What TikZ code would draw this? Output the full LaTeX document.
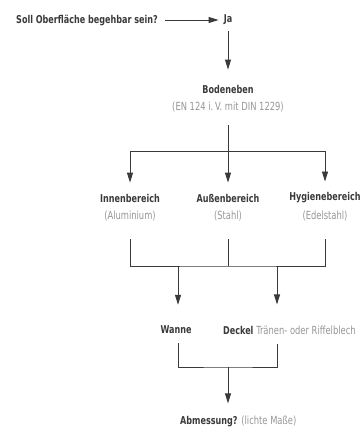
\documentclass[tikz,border=0pt]{standalone}
\usepackage{fontspec}
\setmainfont[FakeStretch=0.83]{DejaVu Sans Condensed}
\usetikzlibrary{arrows.meta, positioning, calc}
\definecolor{rinnedunkel}{RGB}{58, 58, 58}
\definecolor{rinnehell}{RGB}{150, 150, 150}

\tikzset{
    titel/.style={font=\bfseries\fontsize{10.8}{13}\selectfont, text=rinnedunkel, inner sep=0pt},
    hinweis/.style={font=\fontsize{11.2}{13}\selectfont, text=rinnehell, inner sep=0pt},
    linie/.style={draw=rinnedunkel, line width=0.9pt},
    pfeil/.style={linie, -{Triangle[length=10pt, width=6pt]}}
}

\begin{document}
\begin{tikzpicture}[x=1pt, y=-1pt]
    \useasboundingbox (0,0) rectangle (360,427);

    % Frage
    \node[titel, anchor=west] (frage) at (16,20) {Soll Oberfläche begehbar sein?};
    \node[titel] (ja) at (228,20) {Ja};
    \draw[pfeil] ([xshift=7pt]frage.east) -- ([xshift=-5pt]ja.west);

    \node[titel] (boden) at (228,89) {Bodeneben};
    \node[hinweis] (bodenN) at (228,107) {(EN 124 i.\,V. mit DIN 1229)};
    \draw[pfeil] ([yshift=-6pt]ja.south) -- ([yshift=15pt]boden.north);

    % Bereiche
    \node[titel] (innen) at (130,198) {Innenbereich};
    \node[hinweis] (innenN) at (130,216) {(Aluminium)};
    \node[titel] (aussen) at (228,198) {Außenbereich};
    \node[hinweis] (aussenN) at (228,216) {(Stahl)};
    \node[titel] (hyg) at (325,198) {Hygienebereich};
    \node[hinweis] (hygN) at (325,216) {(Edelstahl)};

    \coordinate (verteiler) at (228,151);
    \draw[linie] ([yshift=-13pt]bodenN.south) -- (verteiler);
    \draw[pfeil, shorten >=11pt] (verteiler) -| (innen.north);
    \draw[pfeil, shorten >=11pt] (verteiler) -- (aussen.north);
    \draw[pfeil, shorten >=11pt] (verteiler) -| (hyg.north);

    % Wanne und Deckel
    \coordinate (sammler) at (228,266);
    \coordinate (zuWanne) at (178,266);
    \coordinate (zuDeckel) at (277,266);
    \draw[linie] ([yshift=-18pt]innenN.south) |- (sammler) -| ([yshift=-18pt]hygN.south);
    \draw[linie] ([yshift=-18pt]aussenN.south) -- (sammler);

    \node[titel] (wanne) at (176,330) {Wanne};
    \node[titel, anchor=west] (deckel) at (223,330) {Deckel \textcolor{rinnehell}{\mdseries\fontsize{11.2}{13}\selectfont Tränen- oder Riffelblech}};
    \draw[pfeil] (zuWanne) -- ([yshift=21pt]zuWanne |- wanne.north);
    \draw[pfeil] (zuDeckel) -- ([yshift=21pt]zuDeckel |- deckel.north);

    % Abmessung
    \coordinate (unten) at (228,367);
    \draw[linie] ([yshift=-9pt]zuWanne |- wanne.south) |- (unten) -| ([yshift=-9pt]zuDeckel |- deckel.south);
    \node[titel, anchor=west] (mass) at (180,421) {Abmessung? \textcolor{rinnehell}{\mdseries\fontsize{11.2}{13}\selectfont (lichte Maße)}};
    \draw[pfeil] (unten) -- ([yshift=12pt]unten |- mass.north);
\end{tikzpicture}
\end{document}
